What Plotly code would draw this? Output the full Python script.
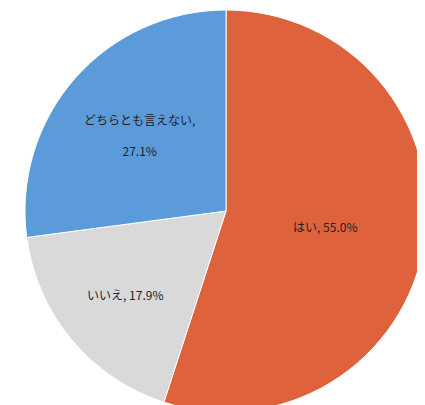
import plotly.graph_objects as go

labels = ["はい", "いいえ", "どちらとも言えない"]
values = [55.0, 17.9, 27.1]
texts = ["はい, 55.0%", "いいえ, 17.9%", "どちらとも言えない,<br><br>27.1%"]
colors = ["#DE623C", "#D9D9D9", "#5B9BD9"]

fig = go.Figure(go.Pie(
    labels=labels, values=values, text=texts, textinfo="text",
    sort=False, direction="clockwise", rotation=0,
    domain=dict(x=[17/425, 419/425], y=[1/405, 403/405]),
    marker=dict(colors=colors, line=dict(color="white", width=1)),
    textposition="inside", insidetextorientation="horizontal",
    textfont=dict(family="Noto Sans CJK JP", size=12, color="#222"),
    hoverinfo="none"
))
fig.update_layout(width=425, height=405, showlegend=False,
                  margin=dict(l=0, r=0, t=0, b=0),
                  paper_bgcolor="white")
fig.write_html("out.html")
